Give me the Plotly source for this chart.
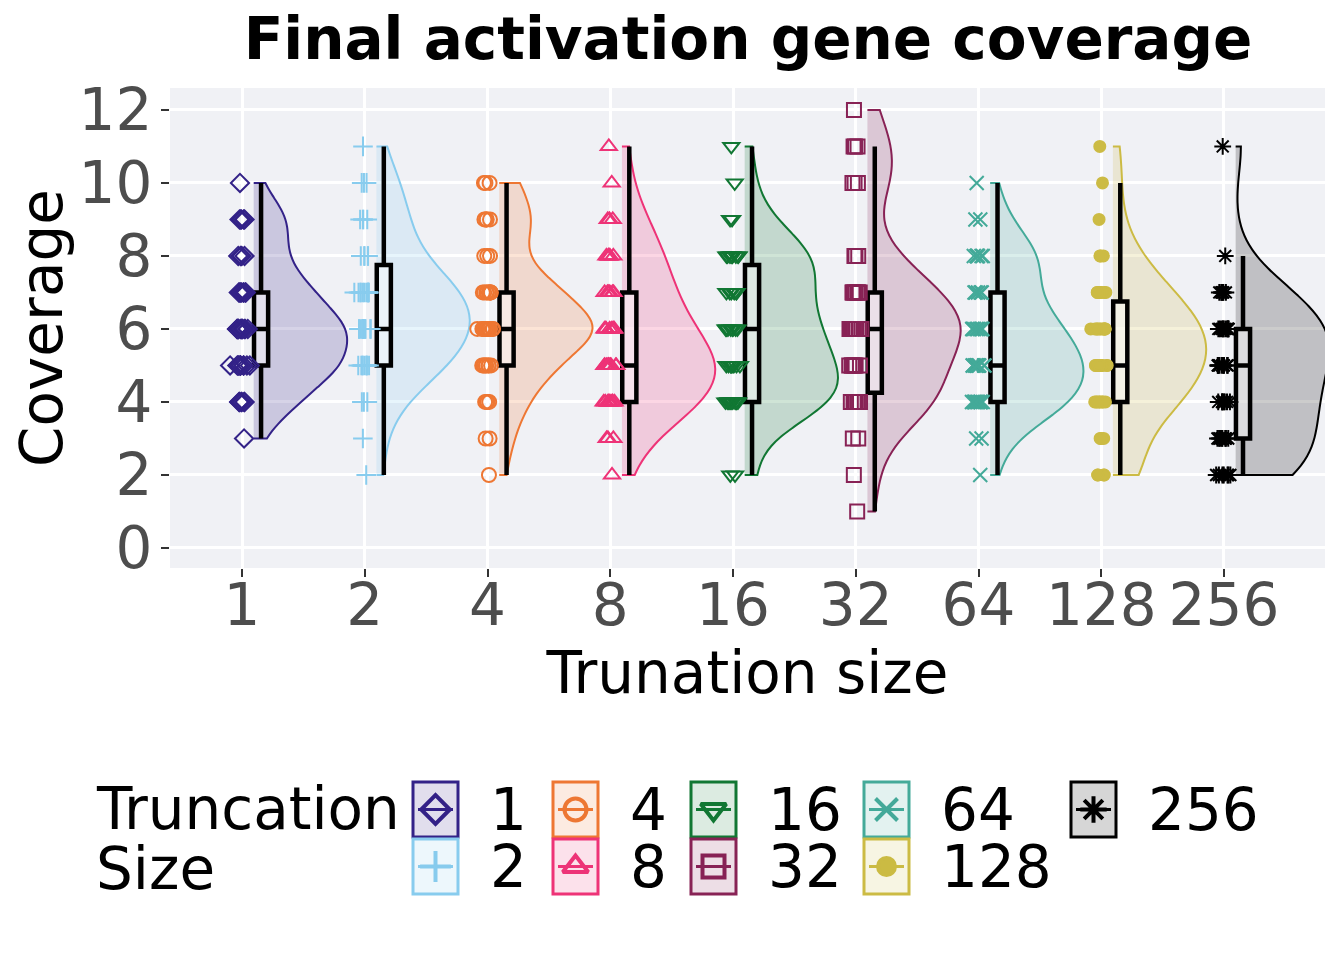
import numpy as np
import plotly.graph_objects as go

# truncation sizes and their styling
sizes = ['1', '2', '4', '8', '16', '32', '64', '128', '256']
colors = ['#332288', '#88CCEE', '#EE7733', '#EE3377', '#117733',
          '#882255', '#44AA99', '#CCBB44', '#000000']
symbols = ['diamond-open', 'cross-thin-open', 'circle-open', 'triangle-up-open',
           'triangle-down-open', 'square-open', 'x-thin-open', 'circle', 'asterisk-open']

# number of replicates reaching each coverage level (1..12)
coverage_levels = list(range(1, 13))
counts_1 = [0, 0, 1, 6, 12, 13, 8, 4, 5, 1, 0, 0]
counts_2 = [0, 1, 1, 3, 9, 12, 11, 5, 4, 3, 1, 0]
counts_4 = [0, 1, 2, 4, 8, 15, 9, 3, 5, 3, 0, 0]
counts_8 = [0, 1, 3, 10, 12, 8, 6, 5, 3, 1, 1, 0]
counts_16 = [0, 2, 0, 12, 9, 8, 6, 9, 2, 1, 1, 0]
counts_32 = [1, 1, 2, 9, 7, 12, 8, 3, 0, 3, 3, 1]
counts_64 = [0, 1, 2, 11, 12, 9, 5, 7, 2, 1, 0, 0]
counts_128 = [0, 4, 3, 8, 11, 11, 7, 3, 1, 1, 1, 0]
counts_256 = [0, 7, 8, 8, 9, 10, 6, 1, 0, 0, 1, 0]

all_counts = [counts_1, counts_2, counts_4, counts_8, counts_16,
              counts_32, counts_64, counts_128, counts_256]

y_ticks = [0, 2, 4, 6, 8, 10, 12]

FONT = 'DejaVu Sans'
W, H = 1344, 960
OFF = 8  # page body margin shifts the figure by this much


def rgba(hex_color, alpha):
    h = hex_color.lstrip('#')
    r, g, b = int(h[0:2], 16), int(h[2:4], 16), int(h[4:6], 16)
    return f'rgba({r},{g},{b},{alpha})'


def px_x(x):
    return (x - OFF) / W


def px_y(y):
    return 1 - (y - OFF) / H


# same bandwidth rule as R's density() default (nrd0)
def nrd0(values):
    v = np.asarray(values, dtype=float)
    sd = v.std(ddof=1)
    iqr = np.quantile(v, 0.75) - np.quantile(v, 0.25)
    lo = min(sd, iqr / 1.34) if iqr > 0 else sd
    return 0.9 * lo * len(v) ** -0.2


# ggplot-style box stats (type 7 quantiles, whiskers at 1.5 IQR)
def box_stats(values):
    v = np.asarray(values, dtype=float)
    q1, med, q3 = np.quantile(v, [0.25, 0.5, 0.75])
    iqr = q3 - q1
    lf = v[v >= q1 - 1.5 * iqr].min()
    uf = v[v <= q3 + 1.5 * iqr].max()
    return q1, med, q3, lf, uf


fig = go.Figure()

for i, (name, col, counts) in enumerate(zip(sizes, colors, all_counts)):
    vals = np.repeat(coverage_levels, counts)

    # half violin to the right of the category
    fig.add_trace(go.Violin(
        y=vals, x0=i + 0.095, side='positive', width=1.52,
        spanmode='hard', bandwidth=nrd0(vals), points=False,
        box_visible=False, meanline_visible=False,
        line=dict(color=col, width=2), fillcolor=rgba(col, 0.2),
        showlegend=False, hoverinfo='skip'))

    # narrow boxplot on the violin edge, outliers not drawn
    q1, med, q3, lf, uf = box_stats(vals)
    fig.add_trace(go.Box(
        x=[i + 0.155], q1=[q1], median=[med], q3=[q3],
        lowerfence=[lf], upperfence=[uf], width=0.115,
        line=dict(color='black', width=4.5), fillcolor='rgba(255,255,255,0.45)',
        whiskerwidth=0, showlegend=False, hoverinfo='skip'))

    # raw replicate points, jittered a little around the category
    fig.add_trace(go.Box(
        y=vals, x0=i, width=0.2, boxpoints='all', jitter=1, pointpos=0,
        line=dict(width=0, color='rgba(0,0,0,0)'), fillcolor='rgba(0,0,0,0)',
        marker=dict(symbol=symbols[i], size=14 if i != 7 else 11, color=col,
                    line=dict(width=2, color=col)),
        showlegend=False, hoverinfo='skip'))

# ---- legend drawn by hand in a pixel-space overlay axis ----
key_cols = [413, 553, 691, 864, 1071]
key_rows = [782, 839]
key_w, key_h = 45, 55
shapes = [dict(type='rect', xref='x domain', yref='y domain', x0=0, x1=1, y0=0, y1=1,
               layer='below', line=dict(width=0), fillcolor='#F0F1F5')]
annotations = []
for i, (name, col) in enumerate(zip(sizes, colors)):
    c, r = divmod(i, 2)
    x0, y0 = key_cols[c], key_rows[r]
    shapes.append(dict(type='rect', xref='x2', yref='y2', x0=x0, x1=x0 + key_w,
                       y0=y0, y1=y0 + key_h, line=dict(color=col, width=3),
                       fillcolor=rgba(col, 0.15 if col != '#000000' else 0.16)))
    cx, cy = x0 + key_w / 2, y0 + key_h / 2
    fig.add_trace(go.Scatter(
        x=[x0 + 5, x0 + key_w - 5], y=[cy, cy], mode='lines', xaxis='x2', yaxis='y2',
        line=dict(color=col, width=3), showlegend=False, hoverinfo='skip'))
    fig.add_trace(go.Scatter(
        x=[cx], y=[cy], mode='markers', xaxis='x2', yaxis='y2',
        marker=dict(symbol=symbols[i], size=22 if i != 7 else 17, color=col,
                    line=dict(width=4, color=col)),
        showlegend=False, hoverinfo='skip'))
    annotations.append(dict(xref='x2', yref='y2', x=x0 + key_w + 30, y=cy,
                            text=name, showarrow=False, xanchor='left', yanchor='middle',
                            font=dict(family=FONT, size=58, color='black')))

annotations.append(dict(xref='x2', yref='y2', x=94, y=809, text='Truncation',
                        showarrow=False, xanchor='left', yanchor='middle',
                        font=dict(family=FONT, size=58, color='black')))
annotations.append(dict(xref='x2', yref='y2', x=94, y=869, text='Size',
                        showarrow=False, xanchor='left', yanchor='middle',
                        font=dict(family=FONT, size=58, color='black')))

fig.update_layout(
    width=W, height=H,
    margin=dict(l=0, r=0, t=0, b=0, autoexpand=False),
    paper_bgcolor='white', plot_bgcolor='white',
    violinmode='overlay', boxmode='overlay',
    title=dict(text='<b>Final activation gene coverage</b>', x=px_x(748), y=px_y(39),
               xanchor='center', yanchor='middle',
               font=dict(family=FONT, size=58, color='black')),
    xaxis=dict(domain=[px_x(170), px_x(1325)], type='linear', range=[-0.587, 8.823],
               automargin=False,
               tickvals=list(range(len(sizes))), ticktext=sizes,
               showgrid=True, gridcolor='white', gridwidth=2.5, zeroline=False,
               ticks='outside', ticklen=8, tickwidth=2, tickcolor='#333333',
               ticklabelstandoff=-22,
               tickfont=dict(family=FONT, size=58, color='#4D4D4D'),
               title=dict(text='Trunation size', standoff=8,
                          font=dict(family=FONT, size=58, color='black'))),
    yaxis=dict(domain=[px_y(568), px_y(88)], range=[-0.548, 12.6],
               automargin=False,
               tickvals=y_ticks, showgrid=True, gridcolor='white', gridwidth=2.5,
               zeroline=False, ticks='outside', ticklen=8, tickwidth=2,
               tickcolor='#333333', ticklabelstandoff=-3,
               tickfont=dict(family=FONT, size=58, color='#4D4D4D'),
               title=dict(text='Coverage', standoff=10,
                          font=dict(family=FONT, size=58, color='black'))),
    xaxis2=dict(domain=[0, 1], range=[OFF, W + OFF], visible=False, anchor='y2',
                fixedrange=True, automargin=False),
    yaxis2=dict(domain=[0, 260 / H], range=[H + OFF, 700 + OFF], visible=False,
                anchor='x2', fixedrange=True, automargin=False),
    shapes=shapes,
    annotations=annotations,
)

fig.write_html('out.html')
